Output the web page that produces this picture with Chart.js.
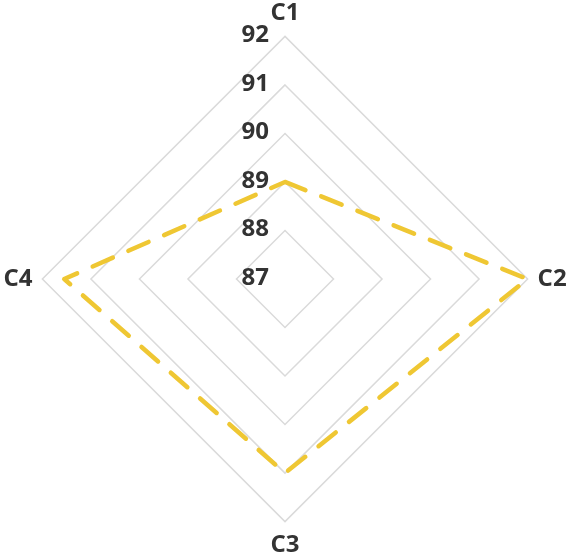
<!DOCTYPE html>
<html>
<head>
<meta charset="utf-8">
<script src="https://cdn.jsdelivr.net/npm/chart.js@4"></script>
<style>
html,body{margin:0;padding:0;background:#fff;}
#wrap{width:570px;height:559px;}
</style>
</head>
<body>
<div id="wrap"><canvas id="c" width="570" height="559"></canvas></div>
<script>
const categories = ['C1', 'C2', 'C3', 'C4'];
const seriesValues = [89, 92, 91, 91.55];
const tickValues = [87, 88, 89, 90, 91, 92];

const FONT = "'Open Sans', 'Noto Sans', sans-serif";

const tickPlugin = {
  id: 'centerTicks',
  afterDatasetsDraw(chart) {
    const s = chart.scales.r;
    const ctx = chart.ctx;
    ctx.save();
    ctx.font = 'bold 24px ' + FONT;
    ctx.fillStyle = '#333333';
    ctx.textAlign = 'right';
    ctx.textBaseline = 'middle';
    tickValues.forEach(v => {
      const d = s.getDistanceFromCenterForValue(v);
      ctx.fillText(String(v), s.xCenter - 16, s.yCenter - d - 1);
    });
    ctx.restore();
  }
};

new Chart(document.getElementById('c'), {
  type: 'radar',
  data: {
    labels: categories,
    datasets: [
      {
        data: seriesValues,
        borderColor: '#EFC733',
        borderWidth: 4.5,
        borderDash: [22, 17],
        borderCapStyle: 'round',
        borderJoinStyle: 'round',
        pointRadius: 0,
        fill: false,
        tension: 0
      },
      {
        data: seriesValues,
        borderColor: '#FBEBA0',
        borderWidth: 1.6,
        borderDash: [22, 17],
        borderCapStyle: 'round',
        borderJoinStyle: 'round',
        pointRadius: 0,
        fill: false,
        tension: 0
      }
    ]
  },
  options: {
    responsive: false,
    animation: false,
    layout: { padding: 0 },
    plugins: { legend: { display: false }, tooltip: { enabled: false } },
    scales: {
      r: {
        min: 87,
        max: 92,
        ticks: { stepSize: 1, display: false },
        grid: { color: '#DADADA', lineWidth: 1.5 },
        angleLines: { display: false },
        pointLabels: {
          color: '#333333',
          padding: 10,
          font: { family: FONT, size: 24, weight: 'bold', lineHeight: 1.1 }
        }
      }
    }
  },
  plugins: [tickPlugin]
});
</script>
</body>
</html>
